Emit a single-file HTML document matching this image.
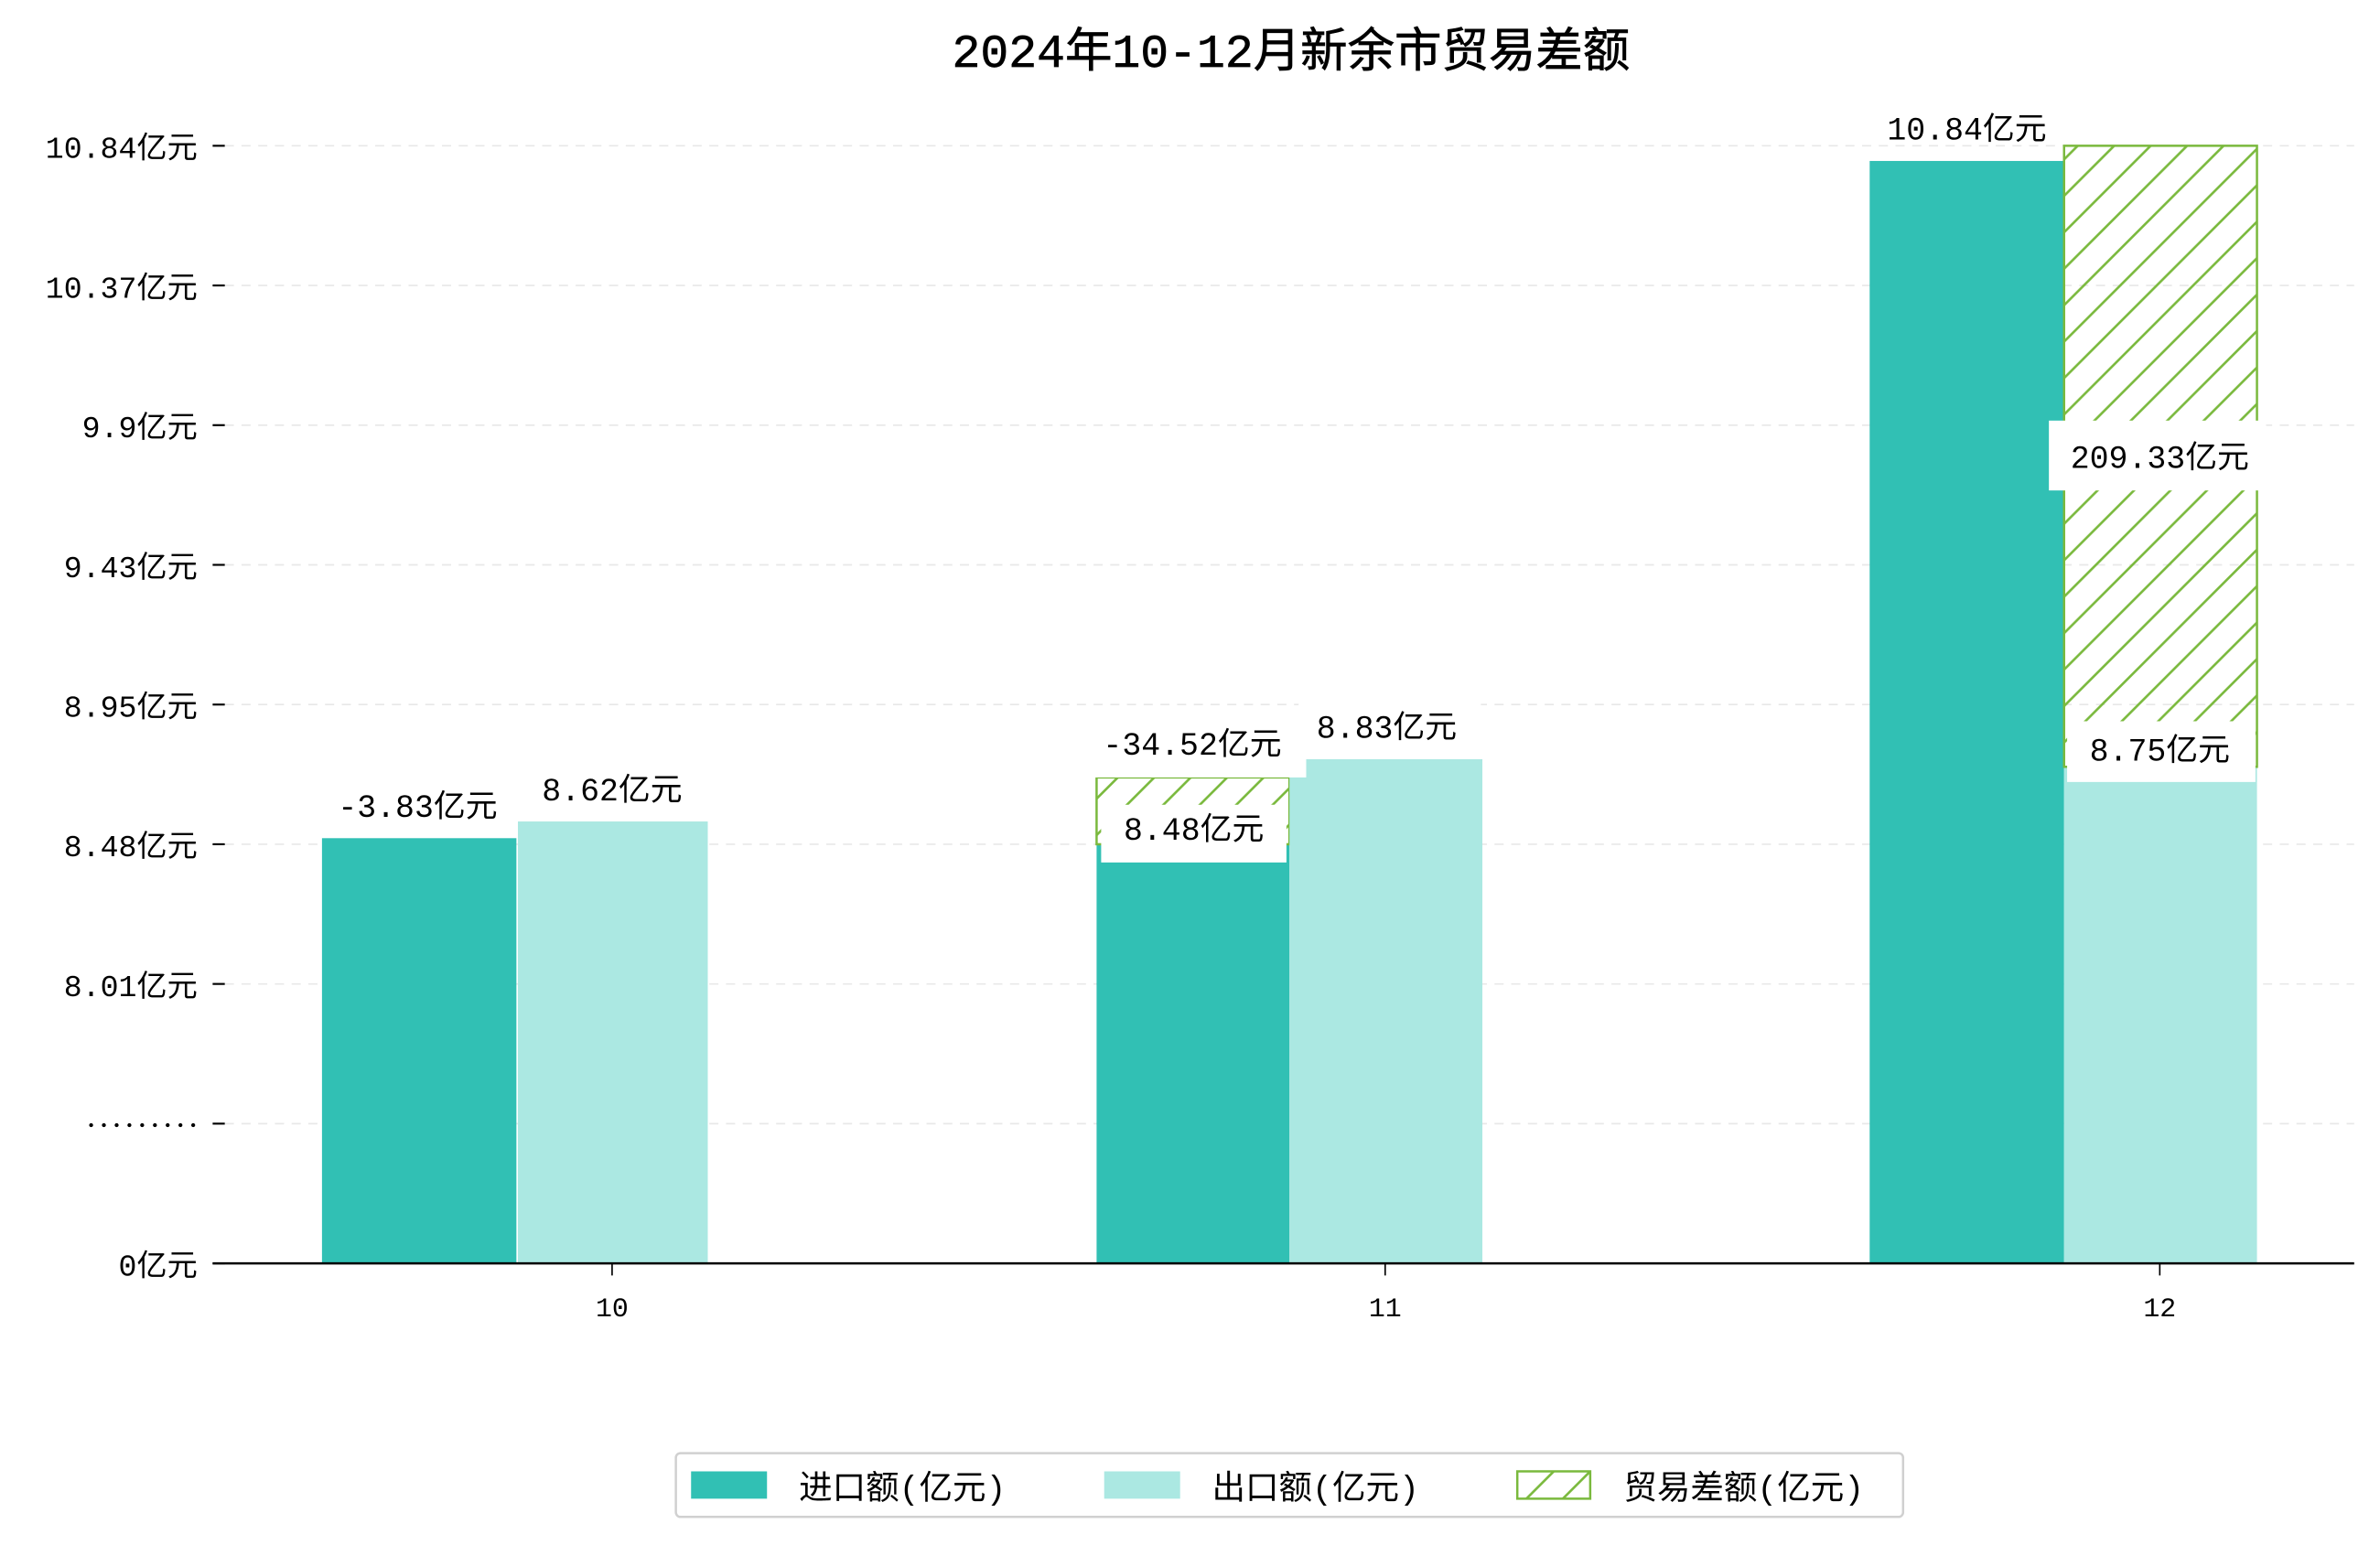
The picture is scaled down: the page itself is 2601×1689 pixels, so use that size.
<!DOCTYPE html>
<html><head><meta charset="utf-8"><style>
html,body{margin:0;padding:0;background:#fff;}
svg{display:block}
text{font-family:"Liberation Mono","Noto Sans CJK SC",monospace;fill:#000}
</style></head><body>
<svg width="2601" height="1689" viewBox="0 0 1567 1017.5" preserveAspectRatio="none" xmlns="http://www.w3.org/2000/svg">
<defs>
<pattern id="h" patternUnits="userSpaceOnUse" width="24" height="24">
<line x1="-6" y1="30" x2="30" y2="-6" stroke="#7ab93d" stroke-width="1.6"/>
<line x1="-6" y1="6" x2="6" y2="-6" stroke="#7ab93d" stroke-width="1.6"/>
<line x1="18" y1="30" x2="30" y2="18" stroke="#7ab93d" stroke-width="1.6"/>
</pattern>
</defs>
<rect width="1567" height="1017.5" fill="#fff"/>
<text x="850" y="44" font-size="31" text-anchor="middle" stroke="#000" stroke-width="0.4">2024年10-12月新余市贸易差额</text>
<g stroke="#e8e8e8" stroke-width="1" stroke-dasharray="6,5">
<line x1="148" y1="96" x2="1550" y2="96"/><line x1="148" y1="188" x2="1550" y2="188"/>
<line x1="148" y1="280" x2="1550" y2="280"/><line x1="148" y1="372" x2="1550" y2="372"/>
<line x1="148" y1="464" x2="1550" y2="464"/><line x1="148" y1="556" x2="1550" y2="556"/>
<line x1="148" y1="648" x2="1550" y2="648"/><line x1="148" y1="740" x2="1550" y2="740"/>
</g>
<g stroke="#000" stroke-width="1.3">
<line x1="140" y1="96" x2="148" y2="96"/><line x1="140" y1="188" x2="148" y2="188"/>
<line x1="140" y1="280" x2="148" y2="280"/><line x1="140" y1="372" x2="148" y2="372"/>
<line x1="140" y1="464" x2="148" y2="464"/><line x1="140" y1="556" x2="148" y2="556"/>
<line x1="140" y1="648" x2="148" y2="648"/><line x1="140" y1="740" x2="148" y2="740"/>
<line x1="140" y1="832" x2="148" y2="832"/>
</g>
<g font-size="20" text-anchor="end">
<text x="130" y="104">10.84亿元</text><text x="130" y="196">10.37亿元</text>
<text x="130" y="288">9.9亿元</text><text x="130" y="380">9.43亿元</text>
<text x="130" y="472">8.95亿元</text><text x="130" y="564">8.48亿元</text>
<text x="130" y="656">8.01亿元</text>
<text x="130" y="840">0亿元</text>
</g>
<g fill="#000">
<circle cx="60" cy="741" r="1.3"/><circle cx="68.4" cy="741" r="1.3"/><circle cx="76.8" cy="741" r="1.3"/>
<circle cx="85.2" cy="741" r="1.3"/><circle cx="93.6" cy="741" r="1.3"/><circle cx="102" cy="741" r="1.3"/>
<circle cx="110.4" cy="741" r="1.3"/><circle cx="118.8" cy="741" r="1.3"/><circle cx="127.2" cy="741" r="1.3"/>
</g>
<rect x="212" y="552" width="128" height="280" fill="#31c0b4"/>
<rect x="341" y="541" width="125" height="291" fill="#abe8e2"/>
<rect x="722" y="556" width="127" height="276" fill="#31c0b4"/>
<rect x="722" y="512" width="127" height="44" fill="url(#h)" stroke="#7ab93d" stroke-width="1.5"/>
<rect x="849" y="500" width="127" height="332" fill="#abe8e2"/>
<rect x="1231" y="106" width="128" height="726" fill="#31c0b4"/>
<rect x="1359" y="505" width="127" height="327" fill="#abe8e2"/>
<rect x="1359" y="96" width="127" height="409" fill="url(#h)" stroke="#7ab93d" stroke-width="1.5"/>
<g fill="#fff">
<rect x="720" y="474" width="140" height="38"/>
<rect x="725" y="530" width="122" height="38"/>
<rect x="855" y="462" width="120" height="38"/>
<rect x="1349" y="277" width="143" height="46"/>
<rect x="1361" y="475" width="124" height="40"/>
</g>
<g font-size="21" text-anchor="middle">
<text x="275" y="538">-3.83亿元</text>
<text x="403" y="527">8.62亿元</text>
<text x="785" y="497">-34.52亿元</text>
<text x="786" y="553">8.48亿元</text>
<text x="913" y="486">8.83亿元</text>
<text x="1295" y="92">10.84亿元</text>
<text x="1422" y="308">209.33亿元</text>
<text x="1422" y="501">8.75亿元</text>
</g>
<line x1="140" y1="832" x2="1550" y2="832" stroke="#000" stroke-width="1.5"/>
<g stroke="#000" stroke-width="1"><line x1="403" y1="832" x2="403" y2="840"/><line x1="912" y1="832" x2="912" y2="840"/><line x1="1422" y1="832" x2="1422" y2="840"/></g>
<g font-size="18" text-anchor="middle"><text x="403" y="867">10</text><text x="912" y="867">11</text><text x="1422" y="867">12</text></g>
<rect x="445" y="957" width="808" height="42" rx="3" fill="#fff" stroke="#d0d0d0" stroke-width="1.5"/>
<rect x="455" y="969" width="50" height="18" fill="#31c0b4"/>
<text x="526" y="987" font-size="22">进口额(亿元)</text>
<rect x="727" y="969" width="50" height="18" fill="#abe8e2"/>
<text x="798" y="987" font-size="22">出口额(亿元)</text>
<rect x="999" y="969" width="48" height="18" fill="url(#h)" stroke="#7ab93d" stroke-width="1.5"/>
<text x="1069" y="987" font-size="22">贸易差额(亿元)</text>
</svg>
</body></html>
